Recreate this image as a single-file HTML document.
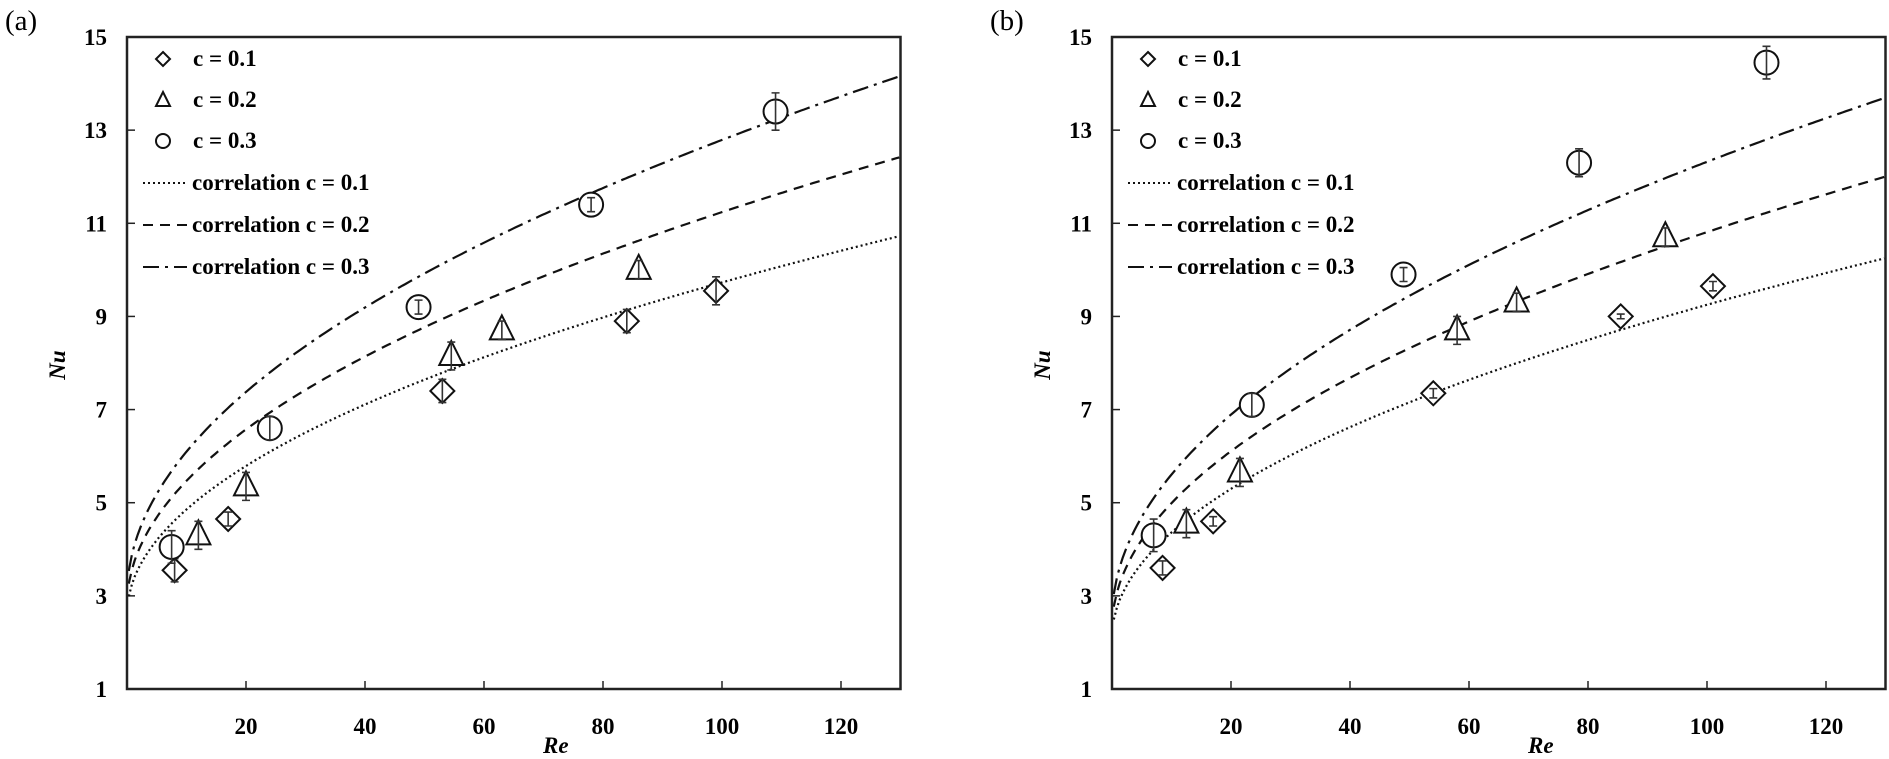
<!DOCTYPE html>
<html><head><meta charset="utf-8"><style>
body{margin:0;background:#fff;}
svg{display:block;font-family:"Liberation Serif",serif;}
.t{font-weight:bold;font-size:23px;}
</style></head><body>
<svg id="chart" width="1889" height="759" viewBox="0 0 1889 759" xmlns="http://www.w3.org/2000/svg"></svg>
<script>
const xTicks=[20,40,60,80,100,120];
const yTicks=[1,3,5,7,9,11,13,15];
const seriesNames=["c = 0.1","c = 0.2","c = 0.3"];
const aRe01=[8,17,53,84,99], aNu01=[3.55,4.65,7.4,8.9,9.55];
const aRe02=[12,20,54.5,63,86], aNu02=[4.3,5.35,8.15,8.7,10.0];
const aRe03=[7.5,24,49,78,109], aNu03=[4.05,6.6,9.2,11.4,13.4];
const aErr01=[0.25,0.15,0.25,0.25,0.3], aErr02=[0.3,0.3,0.3,0.2,0.2], aErr03=[0.35,0.25,0.15,0.15,0.4];
const bRe01=[8.5,17,54,85.5,101], bNu01=[3.6,4.6,7.35,9.0,9.65];
const bRe02=[12.5,21.5,58,68,93], bNu02=[4.55,5.65,8.7,9.3,10.7];
const bRe03=[7,23.5,49,78.5,110], bNu03=[4.3,7.1,9.9,12.3,14.45];
const bErr01=[0.15,0.1,0.1,0.05,0.1], bErr02=[0.3,0.3,0.3,0.2,0.2], bErr03=[0.35,0.25,0.15,0.3,0.35];
// correlation params Nu = a + b*Re^0.5
const aCorrA=[2.6,2.8,3.0], aCorrB=[0.713,0.844,0.979];
const bCorrA=[2.1,2.3,2.5], bCorrB=[0.715,0.851,0.982];

const NS="http://www.w3.org/2000/svg";
const svg=document.getElementById('chart');
function mk(tag,attrs,parent,text){const e=document.createElementNS(NS,tag);for(const k in attrs)e.setAttribute(k,attrs[k]);if(text!==undefined)e.textContent=text;(parent||svg).appendChild(e);return e;}
const Y0=689,Y1=37,XS=5.95,REMAX=130;
function yS(v){return Y0-(v-1)*(Y0-Y1)/14;}

function panel(id,x0,label,sets,corrA,corrB){
  const g=mk('g',{});
  
  
  const xS=v=>x0+v*XS;
  const xR=xS(REMAX);
  const fr=mk('rect',{x:x0,y:Y1,width:xR-x0,height:Y0-Y1,fill:'none',stroke:'#222','stroke-width':2.5},g);
  
  const pl=mk('text',{x:x0-122,y:30,'font-size':29},g,'('+id+')');
  
  xTicks.forEach(v=>{
    mk('line',{x1:xS(v),x2:xS(v),y1:Y0,y2:Y0-8,stroke:'#222','stroke-width':1.5},g);
    const t=mk('text',{x:xS(v),y:734,'text-anchor':'middle',class:'t'},g,v);
    
  });
  yTicks.forEach(v=>{
    mk('line',{x1:x0,x2:x0+8,y1:yS(v),y2:yS(v),stroke:'#222','stroke-width':1.5},g);
    const t=mk('text',{x:x0-20,y:yS(v)+8,'text-anchor':'end',class:'t'},g,v);
    
  });
  const xl=mk('text',{x:x0+416,y:753,'font-size':23,'font-weight':'bold','font-style':'italic'},g,'Re');
  
  const yl=mk('text',{x:x0-62,y:365,'font-size':23,'font-weight':'bold','font-style':'italic',transform:`rotate(-90 ${x0-62} 365)`,'text-anchor':'middle'},g,'Nu');
  
  const dashes=['2,3','10,7','16,6,3,6'];
  // correlation curves
  for(let i=0;i<3;i++){
    let d='';
    for(let r=0.3;r<=REMAX;r+=0.5){const v=corrA[i]+corrB[i]*Math.sqrt(r);d+=(d?'L':'M')+xS(r).toFixed(1)+','+yS(v).toFixed(1);}
    const p=mk('path',{d:d,fill:'none',stroke:'#111','stroke-width':2.2,'stroke-dasharray':dashes[i]},g);
    
  }
  // markers
  sets.forEach((s,i)=>{
    s.re.forEach((r,j)=>{
      const cx=xS(r),cy=yS(s.nu[j]);let m;
      if(i===0)m=mk('polygon',{points:`${cx},${cy-12} ${cx+12},${cy} ${cx},${cy+12} ${cx-12},${cy}`,fill:'#fff',stroke:'#111','stroke-width':2},g);
      else if(i===1)m=mk('polygon',{points:`${cx},${cy-15} ${cx+12},${cy+9} ${cx-12},${cy+9}`,fill:'#fff',stroke:'#111','stroke-width':2},g);
      else m=mk('circle',{cx:cx,cy:cy,r:12,fill:'#fff',stroke:'#111','stroke-width':2},g);
      
      const e=s.err[j]*(Y0-Y1)/14;
      const eb=mk('path',{d:`M${cx},${cy-e}V${cy+e}M${cx-4},${cy-e}H${cx+4}M${cx-4},${cy+e}H${cx+4}`,stroke:'#333','stroke-width':1.6,fill:'none'},g);
      
    });
  });
  // legend
  const lx=x0+36,rows=[66,107,148,190,232,274];
  for(let i=0;i<3;i++){
    const cx=lx,cy=rows[i]-7;let m;
    if(i===0)m=mk('polygon',{points:`${cx},${cy-7} ${cx+7},${cy} ${cx},${cy+7} ${cx-7},${cy}`,fill:'#fff',stroke:'#111','stroke-width':2},g);
    else if(i===1)m=mk('polygon',{points:`${cx},${cy-8} ${cx+7},${cy+6} ${cx-7},${cy+6}`,fill:'#fff',stroke:'#111','stroke-width':2},g);
    else m=mk('circle',{cx:cx,cy:cy,r:7,fill:'#fff',stroke:'#111','stroke-width':2},g);
    
    const t=mk('text',{x:x0+66,y:rows[i],class:'t'},g,seriesNames[i]);
    
  }
  for(let i=0;i<3;i++){
    const y=rows[i+3]-7;
    const l=mk('line',{x1:x0+16,x2:x0+60,y1:y,y2:y,stroke:'#111','stroke-width':2,'stroke-dasharray':dashes[i]},g);
    
    const t=mk('text',{x:x0+65,y:rows[i+3],class:'t'},g,'correlation '+seriesNames[i]);
    
  }
}
panel('a',127,'a',[{re:aRe01,nu:aNu01,err:aErr01},{re:aRe02,nu:aNu02,err:aErr02},{re:aRe03,nu:aNu03,err:aErr03}],aCorrA,aCorrB);
panel('b',1112,'b',[{re:bRe01,nu:bNu01,err:bErr01},{re:bRe02,nu:bNu02,err:bErr02},{re:bRe03,nu:bNu03,err:bErr03}],bCorrA,bCorrB);
</script>
</body></html>
